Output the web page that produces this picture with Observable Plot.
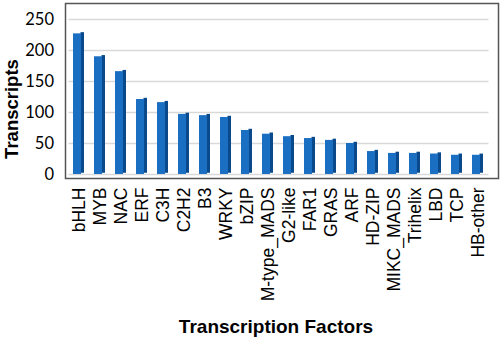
<!DOCTYPE html>
<html><head><meta charset="utf-8">
<script src="https://cdn.jsdelivr.net/npm/d3@7"></script>
<script src="https://cdn.jsdelivr.net/npm/@observablehq/plot@0.6"></script>
<style>
html,body{margin:0;padding:0;background:#fff;}
svg{font-family:"Liberation Sans",Arial,sans-serif;}
</style></head>
<body><div id="chart"></div>
<script>
const factors = ["bHLH","MYB","NAC","ERF","C3H","C2H2","B3","WRKY","bZIP","M-type_MADS","G2-like","FAR1","GRAS","ARF","HD-ZIP","MIKC_MADS","Trihelix","LBD","TCP","HB-other"];
const transcripts = [227,190,166,121,116,97,95,92,71,65,61,58,55,50,37,34,34,33,31,31];
const yTicks = [0,50,100,150,200,250];
const xTitle = "Transcription Factors";
const yTitle = "Transcripts";

const data = factors.map((f,i)=>({factor:f, value:transcripts[i]}));

const chart = Plot.plot({
  width: 500, height: 339,
  marginLeft: 68.5, marginRight: 11.5, marginTop: 3, marginBottom: 161,
  style: {fontSize: "16px", fontFamily: '"Liberation Sans",Arial,sans-serif', color: "#000", background: "#fff"},
  x: {domain: factors, padding: 0.46, paddingOuter: 0.23, align: 0.5},
  y: {domain: [-6.5, 276]},
  marks: [
    Plot.gridY(yTicks, {stroke: "#d9d9d9", strokeOpacity: 1, strokeWidth: 1.5}),
    Plot.barY(data, {x: "factor", y1: 0, y2: "value", fill: "#0a4a8c", insetLeft: 7.5, dy: -1.2}),
    Plot.barY(data, {x: "factor", y1: 0, y2: "value", fill: "#1a6fc2", insetRight: 3}),
    Plot.frame({stroke: "#555", strokeWidth: 1.5, insetLeft: -3.5, insetRight: -9.5}),
    Plot.axisY({ticks: yTicks, tickSize: 0, tickPadding: 15, label: null, fontSize: 16.5, fontFamily: "Lato, 'Open Sans', sans-serif"}),
    Plot.axisX({tickSize: 0, tickPadding: 9, tickRotate: -90, label: null, fontSize: 17.5}),
    Plot.text([xTitle], {frameAnchor: "bottom", textAnchor: "middle", lineAnchor: "middle", dy: 148, dx: -3, fontSize: 19, fontWeight: "bold"}),
    Plot.text([yTitle], {frameAnchor: "left", textAnchor: "middle", lineAnchor: "middle", dx: -57, dy: 18, rotate: -90, fontSize: 18.5, fontWeight: "bold"})
  ]
});
document.getElementById("chart").appendChild(chart);
</script></body></html>
